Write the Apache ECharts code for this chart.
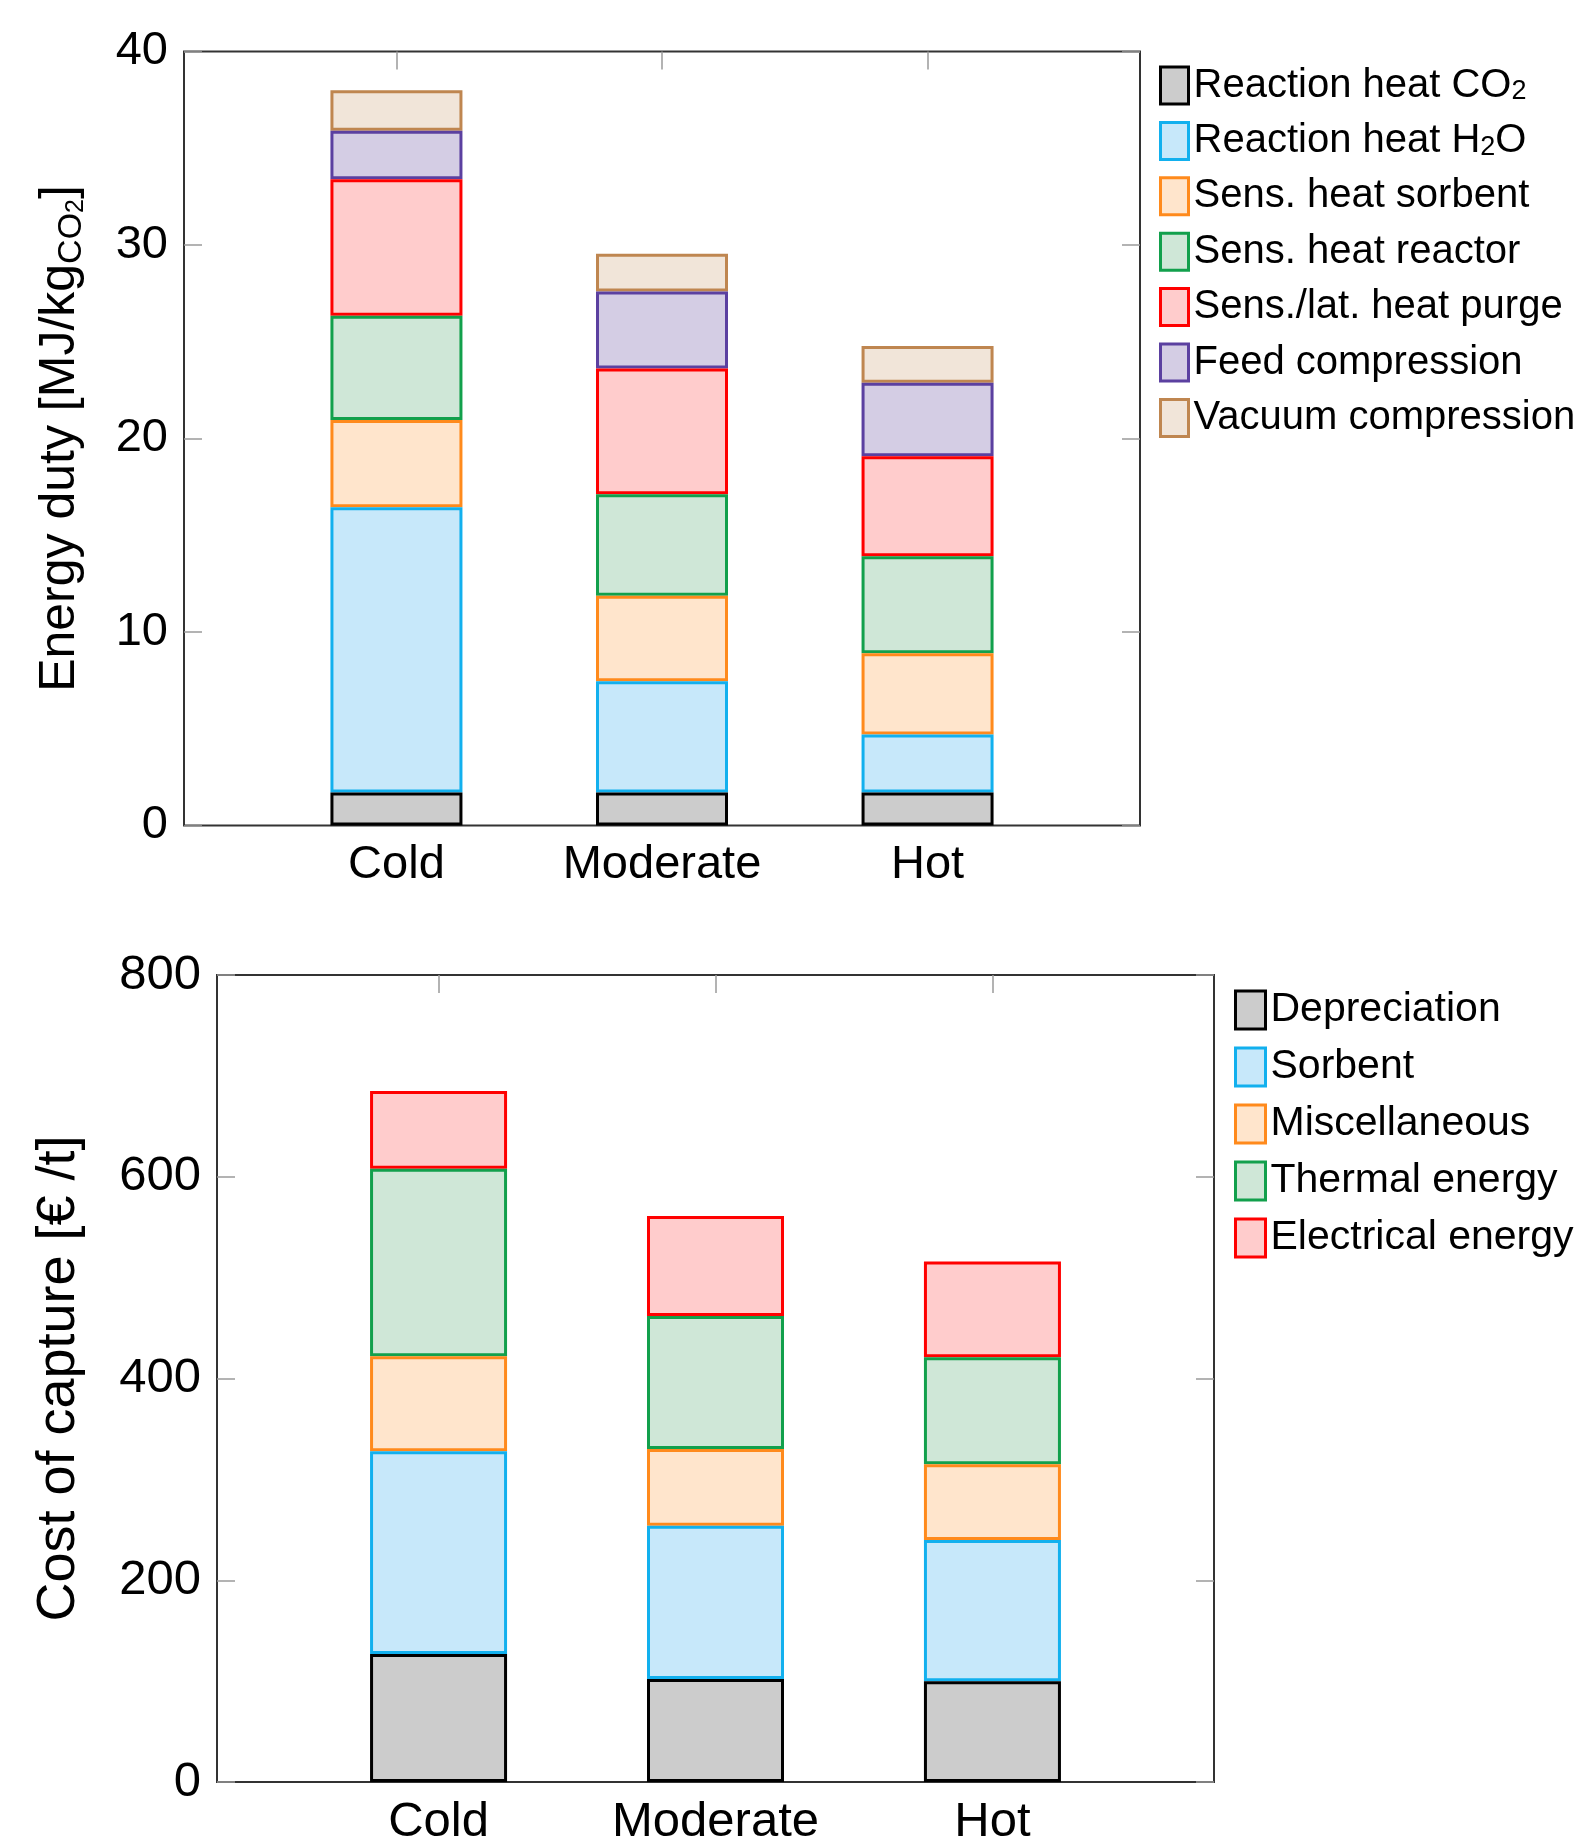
<!DOCTYPE html>
<html>
<head>
<meta charset="utf-8">
<script src="https://cdn.jsdelivr.net/npm/echarts@6/dist/echarts.min.js"></script>
<style>
html,body{margin:0;padding:0;background:#fff;}
#chart{width:1580px;height:1842px;}
</style>
</head>
<body>
<div id="chart"></div>
<script>
// ---------- data ----------
const categories = ['Cold', 'Moderate', 'Hot'];

// Top chart: energy duty [MJ/kg_CO2]
const energyNames = ['Reaction heat CO2', 'Reaction heat H2O', 'Sens. heat sorbent', 'Sens. heat reactor',
  'Sens./lat. heat purge', 'Feed compression', 'Vacuum compression'];
const reactionHeatCO2 = [1.7, 1.7, 1.7];
const reactionHeatH2O = [14.75, 5.75, 3.0];
const sensHeatSorbent = [4.5, 4.42, 4.2];
const sensHeatReactor = [5.4, 5.25, 5.02];
const sensLatHeatPurge = [7.05, 6.5, 5.16];
const feedCompression = [2.5, 3.98, 3.8];
const vacuumCompression = [2.1, 1.95, 1.9];
const energyTicks = [0, 10, 20, 30, 40];

// Bottom chart: cost of capture [EUR/t]
const costNames = ['Depreciation', 'Sorbent', 'Miscellaneous', 'Thermal energy', 'Electrical energy'];
const depreciation = [127, 102, 100];
const sorbent = [201, 152, 140];
const miscellaneous = [94, 76, 75];
const thermalEnergy = [186, 132, 106];
const electricalEnergy = [77, 99, 95];
const costTicks = [0, 200, 400, 600, 800];

// ---------- styles ----------
const borders = ['#000000', '#12b0ee', '#ff8a1c', '#12a04c', '#ff0000', '#5b40a0', '#bf8650'];
const fills   = ['#cccccc', '#c7e8fa', '#ffe5cc', '#cfe7d7', '#ffcccc', '#d4cde4', '#f1e5d9'];
const costBorders = ['#000000', '#12b0ee', '#ff8a1c', '#12a04c', '#ff0000'];
const costFills   = ['#cccccc', '#c7e8fa', '#ffe5cc', '#cfe7d7', '#ffcccc'];
const FONT = 'Liberation Sans';

const energyData = [reactionHeatCO2, reactionHeatH2O, sensHeatSorbent, sensHeatReactor,
  sensLatHeatPurge, feedCompression, vacuumCompression];
const costData = [depreciation, sorbent, miscellaneous, thermalEnergy, electricalEnergy];

// rows are [value, categoryPosition]; encode maps column 1 -> x, column 0 -> y
function pts(arr) { return arr.map((v, i) => [v, i]); }
const catIdx = categories.map((c, i) => i);
const catFmt = v => categories[Math.round(v)] || '';

function xAxes(gridIndex, fs, margin) {
  return [
    { type: 'value', gridIndex, min: -0.8, max: 2.8, position: 'bottom',
      axisLine: { show: false, onZero: false }, splitLine: { show: false },
      axisTick: { show: false },
      axisLabel: { customValues: catIdx, formatter: catFmt, fontSize: fs, fontFamily: FONT, color: '#000', margin } },
    { type: 'value', gridIndex, min: -0.8, max: 2.8, position: 'top',
      axisLine: { show: false, onZero: false }, splitLine: { show: false },
      axisTick: { show: true, inside: true, length: 18, customValues: catIdx, lineStyle: { color: '#9a9a9a', width: 1.5 } },
      axisLabel: { show: false } }
  ];
}
function yAxes(gridIndex, ticks, fs, name, nameGap, rich) {
  const mn = ticks[0], mx = ticks[ticks.length - 1], iv = ticks[1] - ticks[0];
  return [
    { type: 'value', gridIndex, min: mn, max: mx, interval: iv, position: 'left',
      axisLine: { show: false, onZero: false }, splitLine: { show: false },
      axisTick: { show: true, inside: true, length: 18, lineStyle: { color: '#9a9a9a', width: 1.5 } },
      axisLabel: { fontSize: fs, fontFamily: FONT, color: '#000', margin: 16 },
      name, nameLocation: 'middle', nameGap,
      nameTextStyle: { fontFamily: FONT, color: '#000', rich } },
    { type: 'value', gridIndex, min: mn, max: mx, interval: iv, position: 'right',
      axisLine: { show: false, onZero: false }, splitLine: { show: false },
      axisTick: { show: true, inside: true, length: 18, lineStyle: { color: '#9a9a9a', width: 1.5 } },
      axisLabel: { show: false } }
  ];
}

const series = [];
energyData.forEach((arr, i) => {
  series.push({ name: energyNames[i], type: 'bar', stack: 'energy', xAxisIndex: 0, yAxisIndex: 0,
    encode: { x: 1, y: 0 }, barWidth: 132, z: 20 - i, data: pts(arr),
    itemStyle: { color: fills[i], borderColor: borders[i], borderWidth: 3 } });
});
costData.forEach((arr, i) => {
  series.push({ name: costNames[i], type: 'bar', stack: 'cost', xAxisIndex: 2, yAxisIndex: 2,
    encode: { x: 1, y: 0 }, barWidth: 137, z: 20 - i, data: pts(arr),
    itemStyle: { color: costFills[i], borderColor: costBorders[i], borderWidth: 3 } });
});

const legendFmt = name => {
  if (name === 'Reaction heat CO2') return '{n|Reaction heat CO}{s|2}';
  if (name === 'Reaction heat H2O') return '{n|Reaction heat H}{s|2}{n|O}';
  return '{n|' + name + '}';
};

const option = {
  backgroundColor: '#ffffff',
  animation: false,
  grid: [
    { left: 184, top: 51.5, width: 956, height: 774, show: true, borderColor: '#333', borderWidth: 2,
      backgroundColor: 'transparent', containLabel: false, outerBoundsMode: 'none' },
    { left: 217, top: 975, width: 997, height: 807, show: true, borderColor: '#333', borderWidth: 2,
      backgroundColor: 'transparent', containLabel: false, outerBoundsMode: 'none' }
  ],
  xAxis: [...xAxes(0, 47, 16), ...xAxes(1, 49, 16)],
  yAxis: [
    ...yAxes(0, energyTicks, 47, '{m|Energy duty [MJ/kg}{s|CO}{ss|2}{m|]}', 95,
      { m: { fontSize: 50, fontFamily: FONT, lineHeight: 58 },
        s: { fontSize: 34, fontFamily: FONT, lineHeight: 30, verticalAlign: 'bottom' },
        ss: { fontSize: 25, fontFamily: FONT, lineHeight: 18, verticalAlign: 'bottom' } }),
    ...yAxes(1, costTicks, 49, '{m|Cost of capture [€ /t]}', 128,
      { m: { fontSize: 54, fontFamily: FONT, lineHeight: 60 } })
  ],
  legend: [
    { orient: 'vertical', left: 1154, top: 60.5, itemWidth: 28, itemHeight: 37, itemGap: 15.4, itemTextGap: 10,
      icon: 'rect', data: energyNames, formatter: legendFmt, selectedMode: false,
      itemStyle: { borderWidth: 3 },
      textStyle: { fontFamily: FONT, color: '#000', fontSize: 40,
        rich: { n: { fontSize: 40, fontFamily: FONT, lineHeight: 40 },
                s: { fontSize: 27, fontFamily: FONT, lineHeight: 14, verticalAlign: 'bottom' } } } },
    { orient: 'vertical', left: 1229, top: 984.5, itemWidth: 30, itemHeight: 38, itemGap: 16, itemTextGap: 11,
      icon: 'rect', data: costNames, formatter: legendFmt, selectedMode: false,
      itemStyle: { borderWidth: 3 },
      textStyle: { fontFamily: FONT, color: '#000', fontSize: 41,
        rich: { n: { fontSize: 41, fontFamily: FONT, lineHeight: 41 } } } }
  ],
  series
};

const chart = echarts.init(document.getElementById('chart'), null, { renderer: 'canvas' });
chart.setOption(option);
</script>
</body>
</html>
